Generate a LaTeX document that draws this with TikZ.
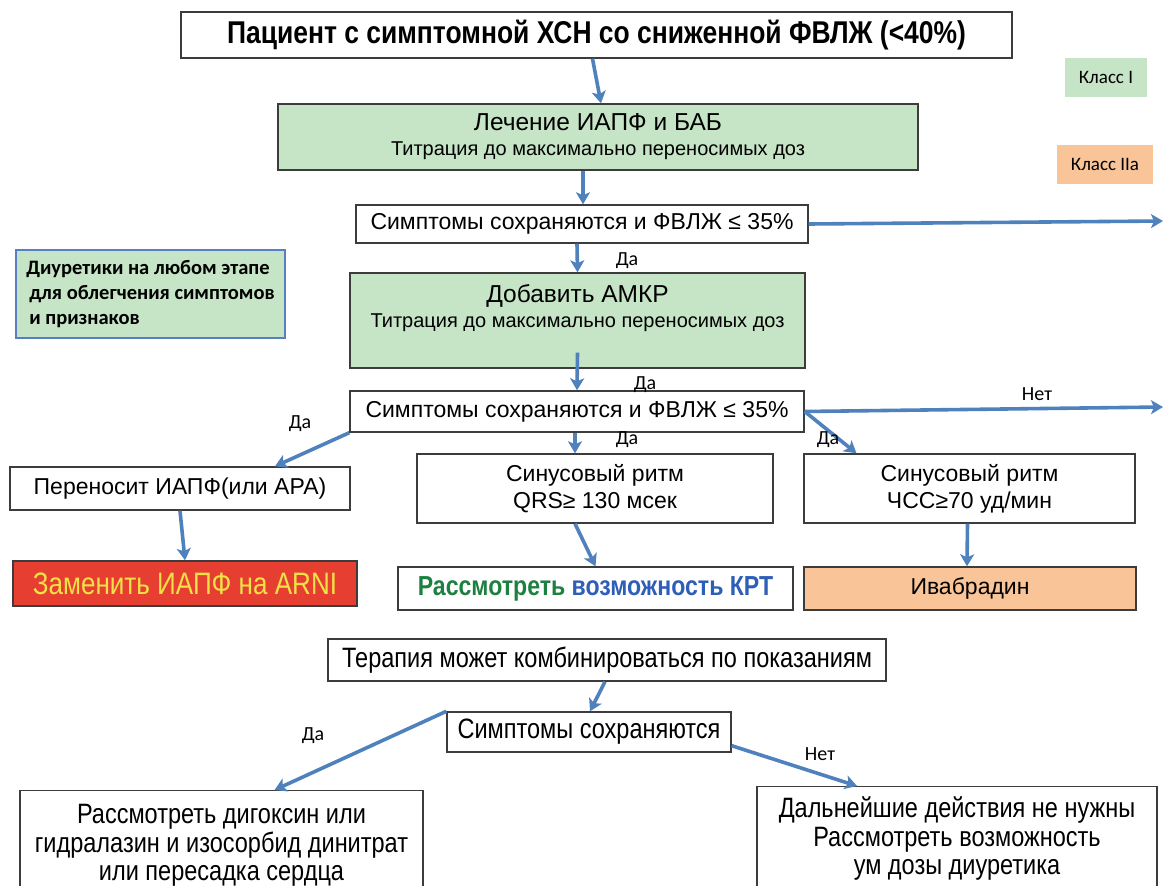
\documentclass[tikz,border=0pt]{standalone}
\usepackage{fontspec}
\setmainfont{Liberation Sans}
\newfontfamily\narrowfont[FakeStretch=0.84]{Liberation Sans}
\newfontfamily\calfont{Carlito}
\usetikzlibrary{arrows.meta}
\definecolor{boxgreen}{RGB}{198,228,198}
\definecolor{boxorange}{RGB}{248,196,152}
\definecolor{boxred}{RGB}{230,62,48}
\definecolor{arniyellow}{RGB}{240,226,70}
\definecolor{arrowblue}{RGB}{79,129,189}
\definecolor{edgegray}{RGB}{60,60,60}
\definecolor{crtgreen}{RGB}{30,128,64}
\definecolor{crtblue}{RGB}{46,94,184}
\tikzset{
  box/.style={draw=edgegray,line width=1.4pt,fill=white,inner sep=0pt,align=center},
  greenbox/.style={box,fill=boxgreen},
  plain/.style={font=\fontsize{23}{27}\selectfont},
  narrow/.style={font=\narrowfont\fontsize{28}{28.5}\selectfont},
  flow/.style={arrowblue,line width=3.6pt,-{Stealth[length=12pt,width=14pt,inset=3pt]}},
  yesno/.style={font=\calfont\fontsize{20}{22}\selectfont},
  legend/.style={minimum height=39,font=\calfont\fontsize{19}{22}\selectfont}
}
\begin{document}
\begin{tikzpicture}[x=1pt,y=-1pt]
  \useasboundingbox (0,0) rectangle (1163,886);
  \begin{scope}
  \clip (0,0) rectangle (1163,886);
  % Boxes
  \node[box,minimum width=831,minimum height=46,font=\narrowfont\bfseries\fontsize{31.5}{34}\selectfont] (patient) at (596.5,35) {Пациент с симптомной ХСН со сниженной ФВЛЖ (<40\%)};
  \node[greenbox,minimum width=640,minimum height=66,font=\fontsize{20}{25}\selectfont] (acei) at (598,137)
    {{\fontsize{24.5}{25}\selectfont Лечение ИАПФ и БАБ}\\Титрация до максимально переносимых доз};
  \node[box,plain,minimum width=452,minimum height=38] (sympA) at (582,224) {Симптомы сохраняются и ФВЛЖ ≤ 35\%};
  \node[greenbox,draw=crtblue!80,minimum width=269,minimum height=88,align=left,font=\calfont\bfseries\fontsize{20.5}{25}\selectfont] (diur) at (150.5,294)
    {Диуретики на любом этапе\\\hspace{3pt}для облегчения симптомов\\\hspace{3pt}и признаков};
  \node[greenbox,minimum width=455,minimum height=95] (mra) at (577.5,320.5) {};
  \node[align=center,inner sep=0pt,font=\fontsize{20}{25}\selectfont] (mratext) at (577.5,308.5)
    {{\fontsize{24.5}{25}\selectfont Добавить АМКР}\\Титрация до максимально переносимых доз};
  \node[box,plain,minimum width=454,minimum height=41] (sympB) at (577,411.5) {Симптомы сохраняются и ФВЛЖ ≤ 35\%};
  \node[box,plain,minimum width=340,minimum height=43] (tolerate) at (180,488.5) {Переносит ИАПФ(или АРА)};
  \node[box,plain,minimum width=356,minimum height=69] (qrs) at (595,488.5) {Синусовый ритм\\QRS≥ 130 мсек};
  \node[box,plain,minimum width=331,minimum height=69] (hr) at (969.5,488.5) {Синусовый ритм\\ЧСС≥70 уд/мин};
  \node[box,fill=boxred,minimum width=344,minimum height=45,text=arniyellow,font=\narrowfont\fontsize{31}{32}\selectfont] (arni) at (185,583.5) {Заменить ИАПФ на ARNI};
  \node[box,minimum width=395,minimum height=43,font=\narrowfont\bfseries\fontsize{27.5}{30}\selectfont] (crt) at (595.5,588.5) {\textcolor{crtgreen}{Рассмотреть} \textcolor{crtblue}{возможность КРТ}};
  \node[box,plain,fill=boxorange,minimum width=332,minimum height=43] (ivab) at (970,588.5) {Ивабрадин};
  \node[box,narrow,minimum width=558,minimum height=42] (combo) at (607,660) {Терапия может комбинироваться по показаниям};
  \node[box,narrow,minimum width=284,minimum height=40] (sympC) at (589,732) {Симптомы сохраняются};
  \node[box,narrow,anchor=north,minimum width=403,minimum height=110] (digox) at (221.5,790)
    {Рассмотреть дигоксин или\\гидралазин и изосорбид динитрат\\или пересадка сердца};
  \node[box,narrow,anchor=north,minimum width=400,minimum height=104] (nofurther) at (957,786)
    {Дальнейшие действия не нужны\\Рассмотреть возможность\\ум дозы диуретика};
  % Legend
  \node[legend,fill=boxgreen,minimum width=82] (classI) at (1106,77.5) {Класс I};
  \node[legend,fill=boxorange,minimum width=96] (classIIa) at (1105,164.5) {Класс IIa};
  % Exits at the right edge
  \coordinate (exitA) at (1163,221);
  \coordinate (exitB) at (1163,407);
  % Arrows
  \draw[flow] ([xshift=-4]patient.south) -- ([xshift=3]acei.north);
  \draw[flow] ([xshift=-15]acei.south) -- ([xshift=1]sympA.north);
  \draw[flow] ([xshift=-5]sympA.south) -- (mra.north);
  \draw[flow] (sympA.east) -- (exitA);
  \draw[flow] ([yshift=16]mra.south) -- (sympB.north);
  \draw[flow] (sympB.east) -- (exitB);
  \draw[flow] (sympB.east) -- ([xshift=-113]hr.north);
  \draw[flow] ([xshift=-2]sympB.south) -- ([xshift=-20]qrs.north);
  \draw[flow] (sympB.south west) -- ([xshift=95]tolerate.north);
  \draw[flow] (tolerate.south) -- (arni.north);
  \draw[flow] ([xshift=-20]qrs.south) -- (crt.north);
  \draw[flow] ([xshift=-2]hr.south) -- ([xshift=-3]ivab.north);
  \draw[flow] ([xshift=-2]combo.south) -- ([xshift=1]sympC.north);
  \draw[flow] (sympC.north west) -- ([xshift=53]digox.north);
  \draw[flow] ([yshift=7]sympC.south east) -- ([xshift=-100]nofurther.north);
  % Yes / no labels
  \node[yesno] (yesA) at (627,261) {Да};
  \node[yesno] (yesB) at (645,385) {Да};
  \node[yesno] (yesC) at (627,440) {Да};
  \node[yesno] (yesD) at (828,440) {Да};
  \node[yesno] (yesE) at (300,424) {Да};
  \node[yesno] (noA) at (1037,394) {Нет};
  \node[yesno] (yesF) at (313,736) {Да};
  \node[yesno] (noB) at (820,754) {Нет};
  \end{scope}
\end{tikzpicture}
\end{document}
